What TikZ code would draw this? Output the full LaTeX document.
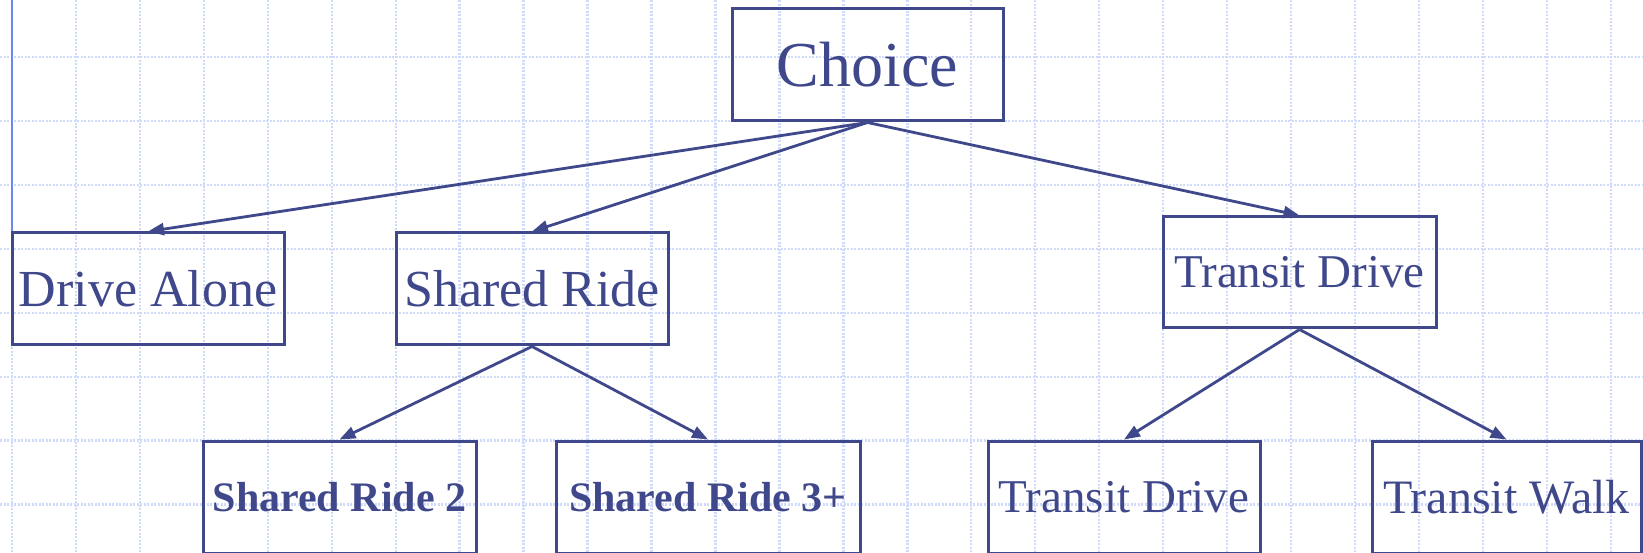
\documentclass[tikz,border=0pt]{standalone}
\usepackage{fontspec}
\setmainfont{Liberation Serif}
\usetikzlibrary{arrows.meta}

\definecolor{navy}{RGB}{64,72,140}
\definecolor{gridblue}{RGB}{208,218,250}
\definecolor{railblue}{RGB}{106,134,240}

\tikzset{
  box/.style={draw=navy, line width=3pt, text=navy, inner sep=0pt,
    minimum width=272pt, minimum height=112pt},
  link/.style={draw=navy, line width=2.8pt,
    -{Triangle[length=16pt,width=12pt]}},
  gridline/.style={gridblue, line width=2.4pt, dash pattern=on 2pt off 1.5pt}
}

\begin{document}
\begin{tikzpicture}[x=1pt,y=1pt]
		\clip (0,0) rectangle (1643,552);
		\fill[white] (0,0) rectangle (1643,552);
		% squared paper
		\foreach \k in {0,...,25}
		{
			\draw[gridline] (12+63.95*\k,0) -- (12+63.95*\k,552);
		}
		\foreach \k in {0,...,8}
		{
			\draw[gridline] (0,559-63.95*\k) -- (1643,559-63.95*\k);
		}
		% margin rule
		\draw[railblue, line width=2.6pt] (12,552) -- (12,319);
		% top level
		\node[box, minimum width=271pt] (choice) at (867.5,487) {\fontsize{64}{70}\selectfont Choice};
		% second level
		\node[box] (alone) at (148,263) {\fontsize{52}{60}\selectfont Drive Alone};
		\node[box] (shared) at (532,263) {\fontsize{52}{60}\selectfont Shared Ride};
		\node[box, minimum width=273pt, minimum height=111pt] (transit) at (1299.5,279.5) {\fontsize{47}{55}\selectfont Transit Drive};
		% third level
		\node[box, minimum width=273pt] (sr2) at (339.5,55) {\fontsize{42}{50}\selectfont\bfseries Shared Ride 2};
		\node[box, minimum width=304pt] (sr3) at (708,55) {\fontsize{42}{50}\selectfont\bfseries Shared Ride 3+};
		\node[box] (tdrive) at (1124,55) {\fontsize{47}{55}\selectfont Transit Drive};
		\node[box, minimum width=269pt] (twalk) at (1506.5,55) {\fontsize{48}{55}\selectfont Transit Walk};
		% branches
		\foreach \a/\b in {choice/alone, choice/shared, choice/transit,
			shared/sr2, shared/sr3, transit/tdrive, transit/twalk}
		{
			\draw[link] (\a.south) -- (\b.north);
		}
	\end{tikzpicture}
\end{document}
